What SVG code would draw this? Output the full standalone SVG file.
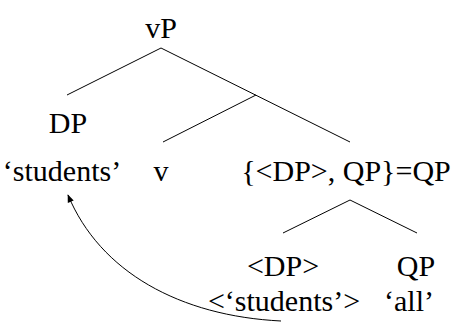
<svg xmlns="http://www.w3.org/2000/svg" width="460" height="331" viewBox="0 0 460 331">
<defs>
<style>
.edge{stroke:#000;stroke-width:1;fill:none}
.t{font-family:"Liberation Serif","Times New Roman",serif;font-size:30px;fill:#000;text-anchor:middle}
</style>
<marker id="ah" viewBox="0 0 10 10" refX="9" refY="5" markerWidth="9" markerHeight="8" orient="auto" markerUnits="userSpaceOnUse">
<path d="M0,1 L10,5 L0,9 z" fill="#000"/>
</marker>
</defs>
<rect width="460" height="331" fill="#fff"/>
<g id="connectors">
<line class="edge" x1="161" y1="48" x2="67" y2="95"/>
<line class="edge" x1="161" y1="48" x2="350" y2="142"/>
<line class="edge" x1="256" y1="95" x2="163" y2="142"/>
<line class="edge" x1="350" y1="200" x2="283" y2="233"/>
<line class="edge" x1="350" y1="200" x2="417" y2="233"/>
<path class="edge" d="M281,321 C180,316 100,272 68,195" marker-end="url(#ah)"/>
</g>
<g id="vP"><text class="t" x="161" y="38">vP</text></g>
<g id="DP"><text class="t" x="68" y="133">DP</text></g>
<g id="students"><text class="t" x="62" y="181">‘students’</text></g>
<g id="v"><text class="t" x="161" y="181">v</text></g>
<g id="QPset"><text class="t" x="346" y="181">{&lt;DP&gt;, QP}=QP</text></g>
<g id="DPtrace"><text class="t" x="283" y="276">&lt;DP&gt;</text></g>
<g id="QP"><text class="t" x="416" y="276">QP</text></g>
<g id="studentsTrace"><text class="t" x="284" y="311">&lt;‘students’&gt;</text></g>
<g id="all"><text class="t" x="409" y="311">‘all’</text></g>
</svg>
